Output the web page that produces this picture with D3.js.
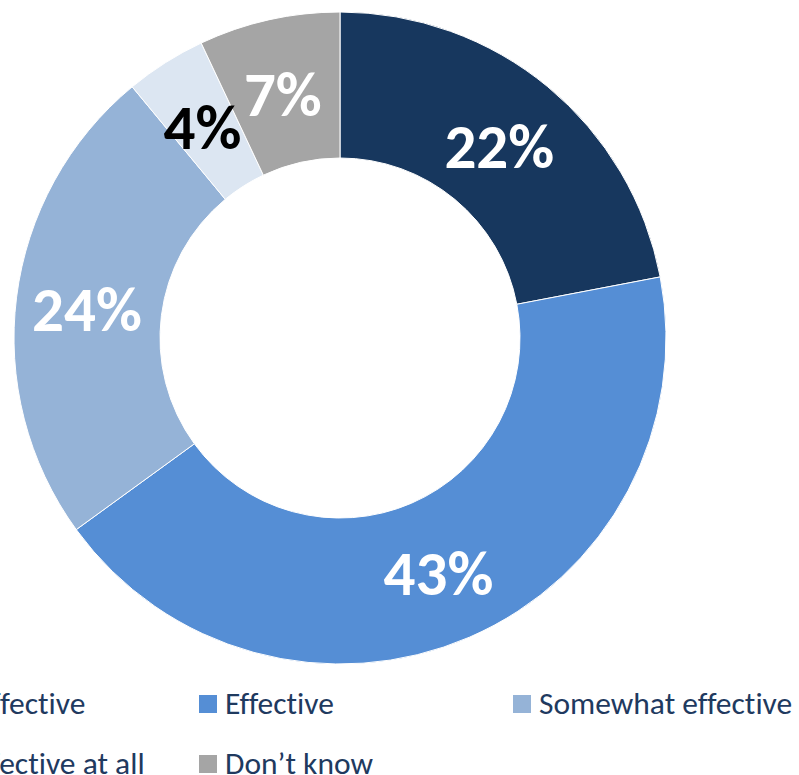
<!DOCTYPE html>
<html>
<head>
<meta charset="utf-8">
<script src="https://cdn.jsdelivr.net/npm/d3@7/dist/d3.min.js"></script>
<style>
  html, body { margin: 0; padding: 0; background: #fff; }
  svg { display: block; }
  text { font-variant-ligatures: none; font-feature-settings: "liga" 0; }
</style>
</head>
<body>
<svg id="chart" width="799" height="775"></svg>
<script>
// Survey responses, clockwise from 12 o'clock
const categories = ["Very effective", "Effective", "Somewhat effective", "Not effective at all", "Don\u2019t know"];
const shares = [22, 43, 24, 4, 7];
const sliceColors = ["#17375E", "#558ED5", "#95B3D7", "#DCE6F2", "#A5A5A5"];
const labelColors = ["#ffffff", "#ffffff", "#ffffff", "#000000", "#ffffff"];

const svg = d3.select("#chart");
const cx = 340, cy = 338;
const outerR = 326, innerR = 180;

const data = categories.map((c, i) => ({ category: c, value: shares[i], color: sliceColors[i], labelColor: labelColors[i] }));

const pie = d3.pie().value(d => d.value).sort(null);
const arc = d3.arc().innerRadius(innerR).outerRadius(outerR);
const labelArc = d3.arc().innerRadius((innerR + outerR) / 2).outerRadius((innerR + outerR) / 2);

const g = svg.append("g").attr("transform", `translate(${cx},${cy})`);
const arcs = pie(data);

g.selectAll("path.slice")
  .data(arcs)
  .join("path")
  .attr("class", "slice")
  .attr("d", arc)
  .attr("fill", d => d.data.color)
  .attr("stroke", "#ffffff")
  .attr("stroke-width", 1);

const labelSize = 63;
g.selectAll("text.pct")
  .data(arcs)
  .join("text")
  .attr("class", "pct")
  .attr("transform", d => {
    const [x, y] = labelArc.centroid(d);
    return `translate(${x - 2},${y + 4})`;
  })
  .attr("text-anchor", "middle")
  .attr("dy", "0.33em")
  .attr("font-family", "Carlito, Calibri, Lato, 'Open Sans', sans-serif")
  .attr("font-weight", "bold")
  .attr("font-size", labelSize)
  .attr("fill", d => d.data.labelColor)
  .text(d => d.data.value + "%");

// Legend: three columns, two rows (first column runs past the left edge)
const colX = [-115, 199, 513];
const rowY = [704, 764];
const legend = svg.append("g").attr("class", "legend");
data.forEach((d, i) => {
  const col = i % 3, row = Math.floor(i / 3);
  const item = legend.append("g").attr("transform", `translate(${colX[col]},${rowY[row]})`);
  item.append("rect")
    .attr("x", 0).attr("y", -9)
    .attr("width", 18).attr("height", 18)
    .attr("fill", d.color);
  item.append("text")
    .attr("x", 26).attr("y", 0)
    .attr("dy", "0.33em")
    .attr("font-family", "Carlito, Calibri, 'Open Sans', sans-serif")
    .attr("font-size", 31.5)
    .attr("fill", "#1F3A5F")
    .text(d.category);
});
</script>
</body>
</html>
